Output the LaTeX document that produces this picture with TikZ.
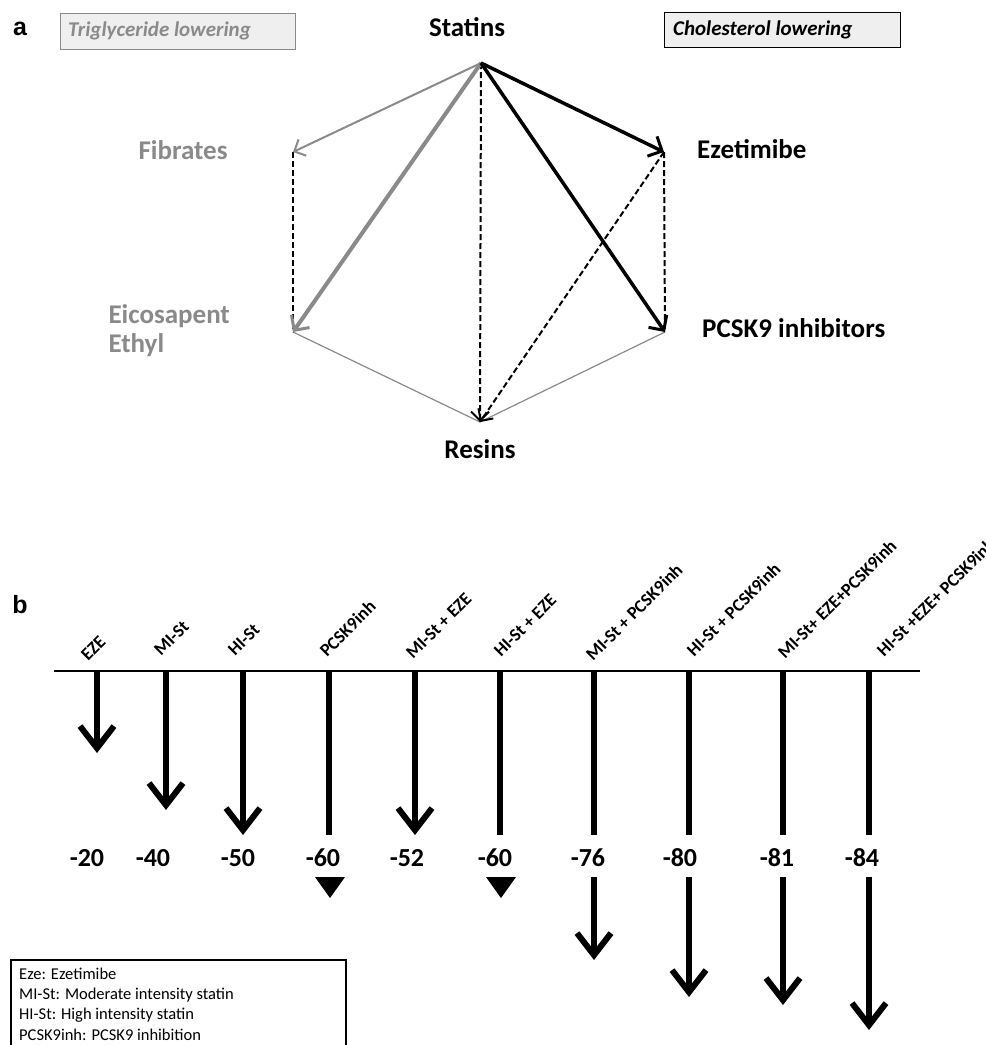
\documentclass[tikz,border=0pt]{standalone}
\usepackage{fontspec}
\setmainfont{Carlito}
\newfontfamily\arialfont{Liberation Sans}
\usetikzlibrary{arrows.meta}
\definecolor{tggray}{HTML}{8A8A8A}
\definecolor{boxfill}{HTML}{EFEFEF}
\begin{document}
\begin{tikzpicture}[x=1pt,y=-1pt,
  panel/.style={font=\arialfont\fontsize{25}{28}\selectfont\bfseries, inner sep=0pt},
  drug/.style={font=\fontsize{27}{29}\selectfont\bfseries, inner sep=0pt},
  legendbox/.style={draw, line width=1.2pt, inner sep=0pt},
  boxtext/.style={font=\fontsize{21}{24}\selectfont\bfseries\itshape, inner sep=0pt, anchor=west},
  smallhead/.style={-{Straight Barb[length=11pt,width=22pt,line width=3pt]}},
  thinhead/.style={-{Straight Barb[length=9pt,width=18pt]}},
  bigarrow/.style={line width=6pt, -{Straight Barb[length=22pt,width=34pt]}},
  bigline/.style={line width=6pt},
  dashline/.style={dashed, dash pattern=on 6pt off 3pt, line width=2pt},
  num/.style={font=\fontsize{26}{30}\selectfont\bfseries, inner sep=0pt},
  rlabel/.style={font=\fontsize{18}{20}\selectfont\bfseries, inner sep=0pt, anchor=base west, rotate=45},
  legtext/.style={font=\fontsize{16.5}{20}\selectfont, inner sep=0pt, anchor=west}
]
\useasboundingbox (0,0) rectangle (986,1045);

% ---------------- panel a ----------------
\node[panel] (pa) at (20,29) {a};
\node[legendbox, draw=tggray, fill=boxfill, minimum width=235pt, minimum height=36pt, anchor=north west] (tgbox) at (60,13) {};
\node[boxtext, text=tggray] (tgtext) at (68,31) {Triglyceride lowering};
\node[legendbox, fill=boxfill, minimum width=236pt, minimum height=35pt, anchor=north west] (chbox) at (664,12) {};
\node[boxtext] (chtext) at (673,30) {Cholesterol lowering};

\coordinate (St) at (481,63);
\coordinate (Fi) at (293,152);
\coordinate (Ez) at (664,152);
\coordinate (Ei) at (293,332);
\coordinate (Pc) at (665,332);
\coordinate (Re) at (480,422);

\node[drug] (lSt) at (467,27) {Statins};
\node[drug, text=tggray] (lFi) at (183,150) {Fibrates};
\node[drug, anchor=west] (lEz) at (697,149) {Ezetimibe};
\node[drug, text=tggray, anchor=east, align=left] (lEi) at (230,331) {Eicosapent\\Ethyl};
\node[drug, anchor=west] (lPc) at (702,328) {PCSK9 inhibitors};
\node[drug] (lRe) at (480,449) {Resins};

\draw[tggray, line width=1.2pt] (Ei) -- (Re);
\draw[tggray, line width=1.2pt] (Pc) -- (Re);
\draw[dashline, line width=1.6pt] (Fi) -- (Ei);
\draw[dashline] (Ez) -- (Pc);
\draw[dashline, thinhead] (Ez) -- (Re);
\draw[dashline, thinhead] (St) -- (Re);
\draw[tggray, line width=2pt, thinhead] (St) -- (Fi);
\draw[tggray, line width=4pt, smallhead] (St) -- (Ei);
\draw[line width=3.5pt, smallhead] (St) -- (Ez);
\draw[line width=3.5pt, smallhead] (St) -- (Pc);

% ---------------- panel b ----------------
\node[panel] (pb) at (20,605) {b};
\coordinate (axL) at (54,671);
\coordinate (axR) at (920,671);
\draw[line width=1.2pt] (axL) -- (axR);

% tops
\foreach \i/\x in {1/97,2/166,3/243,4/329,5/415,6/500,7/594,8/689,9/783,10/869}{
  \coordinate (t\i) at (\x,671);
}
% labels
\node[rlabel] (r1) at (88,662) {EZE};
\node[rlabel] (r2) at (161,657) {MI-St};
\node[rlabel] (r3) at (235,657) {HI-St};
\node[rlabel] (r4) at (327,658) {PCSK9inh};
\node[rlabel] (r5) at (413,660) {MI-St + EZE};
\node[rlabel] (r6) at (501,658) {HI-St + EZE};
\node[rlabel] (r7) at (593,662) {MI-St + PCSK9inh};
\node[rlabel] (r8) at (694,658) {HI-St + PCSK9inh};
\node[rlabel] (r9) at (785,660) {MI-St+ EZE+PCSK9inh};
\node[rlabel] (r10) at (884,658) {HI-St +EZE+ PCSK9inh};

% numbers
\node[num] (n1) at (87,858) {-20};
\node[num] (n2) at (153,858) {-40};
\node[num] (n3) at (238,858) {-50};
\node[num] (n4) at (323,858) {-60};
\node[num] (n5) at (407,858) {-52};
\node[num] (n6) at (495,858) {-60};
\node[num] (n7) at (588,858) {-76};
\node[num] (n8) at (680,858) {-80};
\node[num] (n9) at (777,858) {-81};
\node[num] (n10) at (862,858) {-84};

% ends of upper parts
\coordinate (e1) at (97,753);
\coordinate (e2) at (166,810);
\coordinate (e3) at (243,835);
\coordinate (e4) at (329,835);
\coordinate (e5) at (415,835);
\coordinate (e6) at (500,835);
\coordinate (e7) at (594,835);
\coordinate (e8) at (689,835);
\coordinate (e9) at (783,835);
\coordinate (e10) at (869,835);

\draw[bigarrow] (t1) -- (e1);
\draw[bigarrow] (t2) -- (e2);
\draw[bigarrow] (t3) -- (e3);
\draw[bigline] (t4) -- (e4);
\draw[bigarrow] (t5) -- (e5);
\draw[bigline] (t6) -- (e6);
\draw[bigline] (t7) -- (e7);
\draw[bigline] (t8) -- (e8);
\draw[bigline] (t9) -- (e9);
\draw[bigline] (t10) -- (e10);

% triangles
\fill (315,877) -- (345,877) -- (330,898) -- cycle;
\fill (486,877) -- (516,877) -- (501,898) -- cycle;

% lower continuations
\coordinate (s7) at (594,877);
\coordinate (s8) at (689,877);
\coordinate (s9) at (783,877);
\coordinate (s10) at (869,877);
\coordinate (b7) at (594,960);
\coordinate (b8) at (689,997);
\coordinate (b9) at (783,1005);
\coordinate (b10) at (869,1030);
\draw[bigarrow] (s7) -- (b7);
\draw[bigarrow] (s8) -- (b8);
\draw[bigarrow] (s9) -- (b9);
\draw[bigarrow] (s10) -- (b10);

% legend
\draw[line width=1.2pt] (11,1050) -- (11,960) -- (346,960) -- (346,1050);
\node[legtext] (g1) at (19,974) {Eze: Ezetimibe};
\node[legtext] (g2) at (19,995) {MI-St: Moderate intensity statin};
\node[legtext] (g3) at (19,1015) {HI-St: High intensity statin};
\node[legtext] (g4) at (19,1035) {PCSK9inh: PCSK9 inhibition};
\end{tikzpicture}
\end{document}
